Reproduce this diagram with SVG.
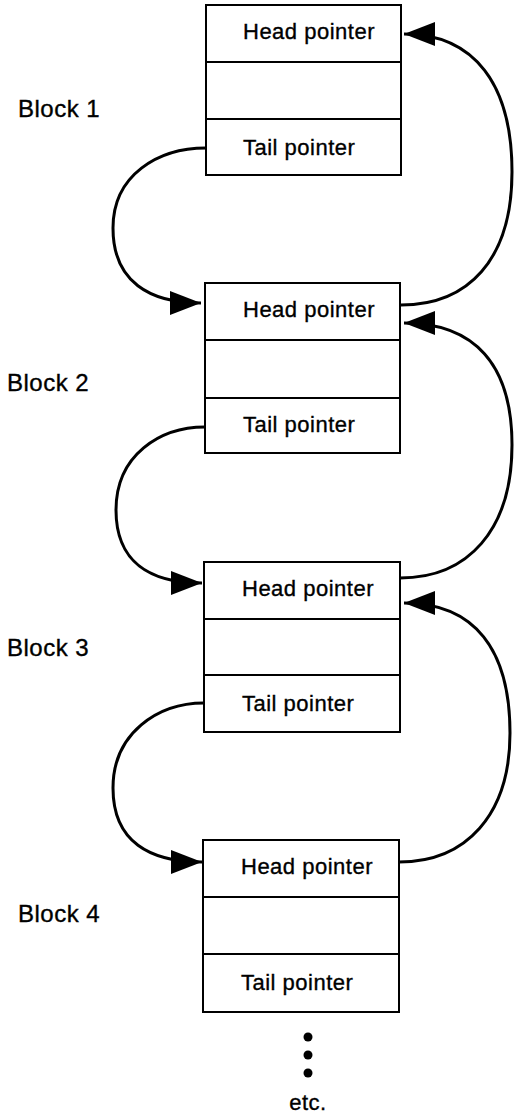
<svg xmlns="http://www.w3.org/2000/svg" width="517" height="1117" viewBox="0 0 517 1117">
<style>
.box{fill:#fff;stroke:#000;stroke-width:2}
.t{font-family:"Liberation Sans",Arial,sans-serif;font-size:22px;letter-spacing:0.5px;fill:#000;stroke:#000;stroke-width:0.35}
.lbl{font-family:"Liberation Sans",Arial,sans-serif;font-size:24px;letter-spacing:0.5px;fill:#000;stroke:#000;stroke-width:0.35}
.c{fill:none;stroke:#000;stroke-width:3}
</style>
<defs>
<marker id="ah" markerUnits="userSpaceOnUse" markerWidth="32" markerHeight="26" refX="31" refY="12" orient="auto">
<path d="M0,0 L31,12 L0,24 z" fill="#000"/>
</marker>
</defs>
<g id="block1">
<rect class="box" x="206" y="5" width="195" height="170"/>
<line class="box" x1="206" y1="62" x2="401" y2="62"/>
<line class="box" x1="206" y1="119" x2="401" y2="119"/>
<text class="t" x="243" y="39">Head pointer</text>
<text class="t" x="243" y="155">Tail pointer</text>
<text class="lbl" x="18" y="117">Block 1</text>
</g>
<g id="block2">
<rect class="box" x="205" y="283" width="195" height="170"/>
<line class="box" x1="205" y1="340" x2="400" y2="340"/>
<line class="box" x1="205" y1="398" x2="400" y2="398"/>
<text class="t" x="243" y="317">Head pointer</text>
<text class="t" x="243" y="432">Tail pointer</text>
<text class="lbl" x="7" y="391">Block 2</text>
</g>
<g id="block3">
<rect class="box" x="204" y="562" width="196" height="170"/>
<line class="box" x1="204" y1="619" x2="400" y2="619"/>
<line class="box" x1="204" y1="675" x2="400" y2="675"/>
<text class="t" x="242" y="596">Head pointer</text>
<text class="t" x="242" y="711">Tail pointer</text>
<text class="lbl" x="7" y="656">Block 3</text>
</g>
<g id="block4">
<rect class="box" x="203" y="840" width="196" height="172"/>
<line class="box" x1="203" y1="897" x2="399" y2="897"/>
<line class="box" x1="203" y1="954" x2="399" y2="954"/>
<text class="t" x="241" y="874">Head pointer</text>
<text class="t" x="241" y="990">Tail pointer</text>
<text class="lbl" x="18" y="922">Block 4</text>
</g>
<g id="more">
<circle cx="308" cy="1037" r="4.5"/>
<circle cx="308" cy="1055" r="4.5"/>
<circle cx="308" cy="1073" r="4.5"/>
<text class="t" x="308" y="1110" text-anchor="middle" letter-spacing="0">etc.</text>
</g>
<g id="connectors">
<path class="c" marker-end="url(#ah)" d="M206,148 C158,148 113,175 113,228 C113,282 150,303 201,303"/>
<path class="c" marker-end="url(#ah)" d="M205,427 C160,427 116,455 116,510 C116,562 150,583 202,583"/>
<path class="c" marker-end="url(#ah)" d="M204,703 C158,703 113,733 113,788 C113,842 150,862 202,862"/>
<path class="c" marker-end="url(#ah)" d="M401,305 C468,305 512,260 512,172 C512,85 475,34 404,34"/>
<path class="c" marker-end="url(#ah)" d="M400,578 C468,578 512,530 512,445 C512,365 475,323 404,323"/>
<path class="c" marker-end="url(#ah)" d="M399,862 C466,862 510,815 510,733 C510,650 475,603 404,603"/>
</g>
</svg>
